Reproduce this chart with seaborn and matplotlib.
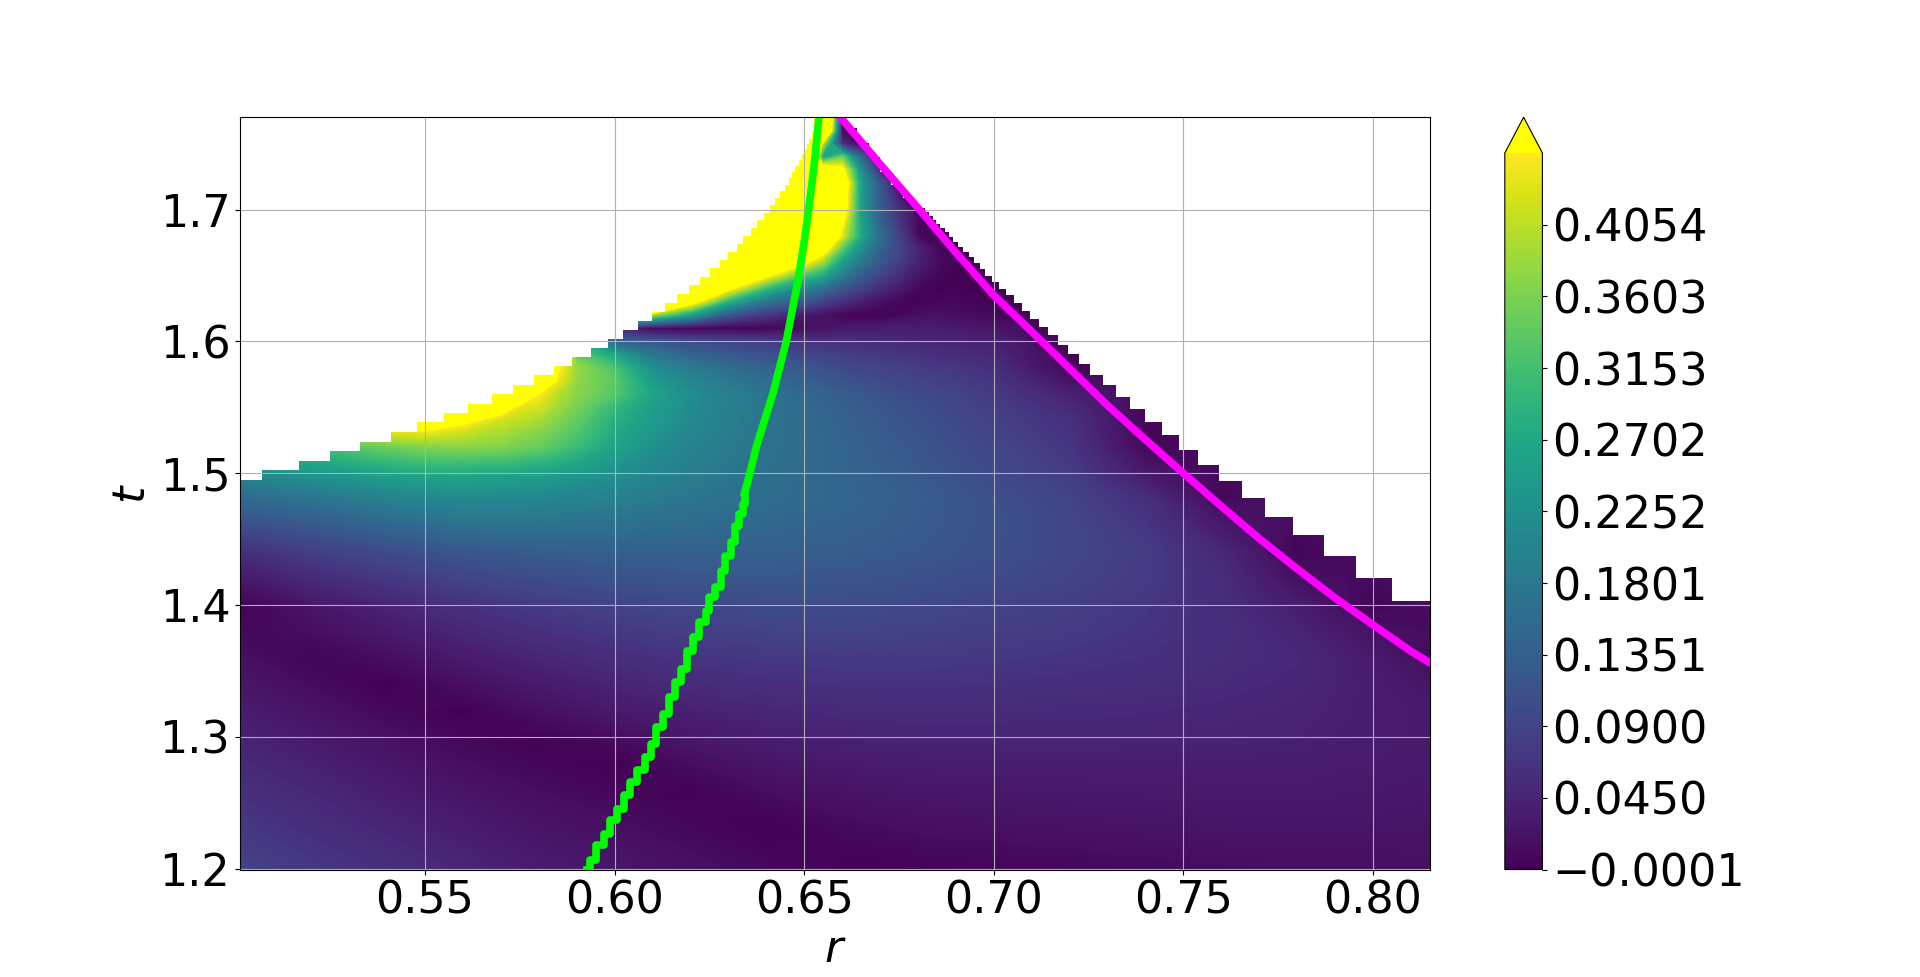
import numpy as np
import matplotlib
matplotlib.use('Agg')
import matplotlib.pyplot as plt
import seaborn as sns
from matplotlib.cm import ScalarMappable
from matplotlib.colors import Normalize
from matplotlib.path import Path

# lower part of the field, t 1.20 - 1.50
r_low = [0.50, 0.52, 0.54, 0.56, 0.58, 0.60, 0.62, 0.64, 0.66, 0.68, 0.70, 0.72, 0.74, 0.76, 0.78, 0.80, 0.82]
t_low = [1.20, 1.22, 1.24, 1.26, 1.28, 1.30, 1.32, 1.34, 1.36, 1.38, 1.40, 1.42, 1.44, 1.46, 1.48, 1.50]
field_low = [
    [.088, .073, .06, .047, .034, .027, .018, .01, .004, .003, .006, .008, .011, .013, .015, .016, .018],
    [.079, .065, .052, .039, .027, .02, .012, .004, .006, .012, .014, .016, .018, .02, .021, .021, .021],
    [.07, .056, .043, .031, .02, .014, .006, .004, .014, .019, .021, .023, .025, .026, .026, .026, .024],
    [.061, .048, .035, .023, .014, .007, .003, .015, .022, .027, .029, .03, .031, .032, .032, .03, .027],
    [.052, .04, .027, .015, .007, .002, .014, .025, .032, .035, .036, .037, .037, .037, .036, .033, .03],
    [.043, .031, .018, .008, .002, .014, .028, .037, .042, .045, .045, .045, .044, .043, .041, .036, .03],
    [.034, .022, .009, .002, .017, .03, .04, .047, .052, .054, .053, .052, .05, .047, .043, .037, .028],
    [.026, .013, .001, .016, .031, .044, .054, .06, .064, .065, .063, .06, .057, .053, .047, .036, .02],
    [.017, .005, .015, .032, .046, .058, .067, .073, .076, .075, .072, .068, .063, .057, .05, .032, .006],
    [.009, .015, .03, .048, .062, .074, .082, .088, .09, .087, .082, .076, .068, .06, .045, .02, .012],
    [.001, .025, .045, .063, .077, .09, .097, .102, .103, .098, .09, .082, .072, .058, .034, .004, .02],
    [.025, .052, .072, .09, .103, .113, .118, .12, .118, .111, .102, .09, .076, .056, .018, .012, .025],
    [.055, .08, .1, .118, .128, .135, .137, .136, .131, .122, .11, .095, .078, .05, .005, .02, .03],
    [.1, .122, .145, .165, .168, .165, .157, .148, .14, .127, .112, .094, .072, .03, .012, .025, .03],
    [.15, .17, .195, .21, .205, .195, .175, .16, .148, .13, .11, .09, .06, .01, .02, .03, .03],
    [.205, .235, .26, .27, .255, .225, .19, .165, .145, .125, .1, .08, .03, .01, .02, .03, .03],
]

# upper part, t 1.50 - 1.78
r_up = [0.50, 0.52, 0.54, 0.55, 0.56, 0.57, 0.575, 0.58, 0.585, 0.59, 0.60, 0.61, 0.62, 0.63, 0.64, 0.65,
        0.655, 0.66, 0.665, 0.67, 0.675, 0.68, 0.685, 0.69, 0.70, 0.72, 0.74, 0.76, 0.78, 0.80, 0.82]
t_up = [1.50, 1.52, 1.53, 1.54, 1.55, 1.56, 1.57, 1.58, 1.59, 1.60, 1.61, 1.62, 1.63, 1.64, 1.65, 1.66,
        1.67, 1.68, 1.70, 1.72, 1.73, 1.74, 1.75, 1.76, 1.78]
far = [.002, .01, .012, .02, .03, .03]
dark = [.002, .002, .002, .002, .002]
field_up = [
    [.205, .235, .26, .27, .27, .265, .26, .255, .248, .24, .225, .205, .19, .175, .165, .155, .15, .145, .14, .135, .13, .125, .118, .112, .1, .08, .03, .01, .02, .03, .03],
    [.29, .31, .35, .365, .37, .365, .355, .345, .325, .305, .26, .225, .2, .183, .17, .157, .15, .145, .137, .13, .124, .118, .112, .105, .095, .07, .008, .012, .02, .03, .03],
    [.34, .38, .42, .43, .41, .39, .375, .365, .345, .325, .27, .235, .206, .187, .171, .156, .149, .142, .135, .128, .12, .115, .108, .102, .091, .066, .006, .012, .02, .03, .03],
    [.4, .46, .5, .52, .47, .415, .405, .39, .365, .34, .28, .245, .212, .19, .172, .155, .148, .14, .132, .125, .118, .112, .105, .098, .087, .062, .006, .012, .02, .03, .03],
    [.5, .55, .6, .6, .58, .5, .43, .42, .385, .355, .3, .25, .218, .193, .172, .153, .144, .135, .127, .12, .113, .106, .1, .094, .081, .052, .008, .012, .02, .03, .03],
    [.6] * 6 + [.55, .45, .40, .37, .33, .26, .22, .195, .172, .15, .14, .13, .122, .115, .107, .1, .095, .09, .075, .04, .01, .012, .02, .03, .03],
    [.7] * 7 + [.6, .44, .375, .335, .245, .205, .18, .158, .135, .125, .115, .108, .102, .095, .09, .085, .08, .068, .022, .01, .012, .02, .03, .03],
    [.7] * 8 + [.46, .38, .32, .22, .185, .16, .14, .12, .11, .1, .095, .09, .085, .08, .075, .07, .06, .005, .01, .012, .02, .03, .03],
    [.7] * 8 + [.6, .34, .26, .175, .14, .125, .11, .093, .088, .08, .076, .072, .068, .065, .06, .056, .05] + far,
    [.7] * 8 + [.6, .28, .14, .12, .1, .09, .08, .065, .062, .06, .057, .055, .052, .05, .047, .045, .04] + far,
    [.7] * 9 + [.5, .05, .005, .002, .002, .002, .015, .022, .028, .032, .034, .035, .035, .034, .03, .025] + far,
    [.8] * 10 + [.5, .38, .25, .12, .07, .03, .018, .006, .003, .003, .008, .015, .02, .015, .008] + far,
    [.9] * 12 + [.5, .28, .17, .12, .085, .06, .035, .02, .008, .002, .008, .01, .002] + far,
    [.9] * 12 + [.8, .47, .3, .2, .16, .12, .085, .055, .03, .01, .002, .004, .002] + far,
    [.9] * 13 + [.7, .47, .32, .27, .19, .13, .09, .055, .025, .008, .001, .002] + far,
    [.9] * 14 + [.65, .47, .38, .25, .18, .125, .08, .04, .015, .002, .002] + far,
    [.9] * 15 + [.7, .5, .33, .22, .14, .09, .045, .012, .002, .002] + far,
    [.9] * 16 + [.7, .43, .27, .16, .085, .012, .002, .002, .002] + far,
    [.9] * 16 + [.8, .52, .25, .13, .06, .008, .002, .002, .002] + far,
    [.9] * 16 + [.8, .55, .25, .12, .008, .002, .002, .002, .002] + far,
    [.9] * 16 + [.55, .48, .22, .05] + dark + far,
    [.9] * 16 + [.25, .35, .14, .002] + dark + far,
    [.9] * 16 + [.4, .06, .002, .002] + dark + far,
    [.9] * 16 + [.8, .01, .002, .002] + dark + far,
    [.9] * 16 + [.9, .05, .002, .002] + dark + far,
]

# upper edge of the computed region, left and right staircase
left_r = [.5071, .5167, .5249, .5328, .5409, .5480, .5549, .5613, .5676, .5731, .5788, .5840, .5889, .5937, .5982,
          .6021, .6061, .6098, .6132, .6166, .6196, .6225, .6251, .6277, .6298, .6322, .6340, .6359, .6376, .6395,
          .6409, .6422, .6436, .6449, .6459, .6469, .6477, .6486, .6494, .6501, .6507, .6514, .6520, .6525, .6533]
left_t = [1.495, 1.5025, 1.5093, 1.5169, 1.5237, 1.5313, 1.5389, 1.5457, 1.5525, 1.5601, 1.5669, 1.5745, 1.5813,
          1.5881, 1.5949, 1.6018, 1.6086, 1.6154, 1.6222, 1.629, 1.6359, 1.6427, 1.6487, 1.6556, 1.6616, 1.6677,
          1.6737, 1.6798, 1.6859, 1.6919, 1.6972, 1.7033, 1.7086, 1.7139, 1.7184, 1.7237, 1.7283, 1.7328, 1.7374,
          1.7419, 1.7457, 1.7495, 1.7533, 1.7593, 1.78]
right_r = [.6610, .6640, .6670, .6700, .6730, .6760, .6790, .6820, .6830, .6839, .6849, .6859, .6871, .6883, .6894, .6906,
           .6919, .6935, .6949, .6963, .6978, .6996, .7014, .7033, .7053, .7074, .7095, .7119, .7143, .7169, .7195,
           .7225, .7254, .7288, .7322, .7359, .7399, .7444, .7489, .7539, .7595, .7655, .7716, .7790, .7871, .7955,
           .8052, .8200]
right_t = [1.78, 1.762, 1.7505, 1.7395, 1.7285, 1.7185, 1.7085, 1.7010, 1.6980, 1.6949, 1.6919, 1.6889, 1.6859, 1.6828,
           1.6790, 1.6753, 1.6715, 1.6677, 1.6639, 1.6593, 1.6548, 1.6495, 1.6449, 1.6396, 1.6351, 1.6290, 1.6230,
           1.6169, 1.6109, 1.6048, 1.5972, 1.5904, 1.5828, 1.5745, 1.5669, 1.5578, 1.5487, 1.5389, 1.5290, 1.5177,
           1.5063, 1.4942, 1.4809, 1.4669, 1.453, 1.4372, 1.4205, 1.4028]

# green curve, the lower part is stepped
green_low_r = [.5928, .5936, .5951, .5972, .5988, .6006, .6024, .6040, .6058, .6079, .6095, .6110, .6128, .6143, .6159,
               .6175, .6192, .6206, .6223, .6242, .6249, .6266, .6280, .6292, .6307, .6318, .6328, .6339, .6343]
green_low_t = [1.1993, 1.2063, 1.2177, 1.2265, 1.2366, 1.2455, 1.2556, 1.2657, 1.2745, 1.2846, 1.2947, 1.3073, 1.3174,
               1.3301, 1.3414, 1.3515, 1.3654, 1.3755, 1.3869, 1.3957, 1.4058, 1.4134, 1.4260, 1.4374, 1.4475, 1.4601,
               1.4689, 1.4765, 1.4848]
green_up_r = [.6343, .6357, .6374, .6396, .6418, .6453, .6484, .6500, .6512, .6526, .6540]
green_up_t = [1.4848, 1.50, 1.52, 1.5404, 1.5606, 1.60, 1.6465, 1.675, 1.70, 1.7323, 1.772]

magenta_r = [.6590, .67, .68, .69, .70, .71, .72, .73, .74, .75, .76, .77, .78, .79, .80, .81, .8160]
magenta_t = [1.772, 1.7345, 1.7013, 1.6675, 1.635, 1.6075, 1.5795, 1.5515, 1.5255, 1.50, 1.475, 1.4505, 1.4275, 1.4055,
             1.385, 1.365, 1.3545]

cbar_ticks = [-0.0001, 0.04495, 0.09, 0.13505, 0.1801, 0.22515, 0.2702, 0.31525, 0.3603, 0.40535]
cbar_labels = ['\u22120.0001', '0.0450', '0.0900', '0.1351', '0.1801', '0.2252', '0.2702', '0.3153', '0.3603', '0.4054']
vmin, vmax = -0.0001, 0.4505

plt.rcParams['font.size'] = 32
plt.rcParams['mathtext.fontset'] = 'dejavusans'

fig, ax = plt.subplots(figsize=(19.2, 9.77))

cmap = sns.color_palette('viridis', as_cmap=True).with_extremes(over='yellow')
norm = Normalize(vmin, vmax)
levels = np.linspace(vmin, vmax, 256)

cs_low = ax.contourf(r_low, t_low, np.array(field_low), levels=levels, cmap=cmap, norm=norm, extend='max', antialiased=False)
cs_up = ax.contourf(r_up, t_up, np.array(field_up), levels=levels, cmap=cmap, norm=norm, extend='max', antialiased=False)

# staircase outline
verts = [(0.50, 1.19), (0.50, left_t[0])]
for i in range(len(left_r)):
    verts.append((left_r[i], left_t[i]))
    if i + 1 < len(left_r):
        verts.append((left_r[i], left_t[i + 1]))
verts.append((right_r[0], right_t[0]))
for i in range(1, len(right_r)):
    verts.append((right_r[i - 1], right_t[i]))
    verts.append((right_r[i], right_t[i]))
verts.append((right_r[-1], 1.19))
verts.append((0.50, 1.19))
cs_low.set_clip_path(Path(verts), transform=ax.transData)
cs_up.set_clip_path(Path(verts), transform=ax.transData)

sns.lineplot(x=green_low_r, y=green_low_t, ax=ax, color='lime', linewidth=5.5, estimator=None, sort=False,
             drawstyle='steps-post')
sns.lineplot(x=green_up_r, y=green_up_t, ax=ax, color='lime', linewidth=5.5, estimator=None, sort=False)
sns.lineplot(x=magenta_r, y=magenta_t, ax=ax, color='magenta', linewidth=5.5, estimator=None, sort=False)

ax.set_xlim(0.5012, 0.8152)
ax.set_ylim(1.1993, 1.77)
ax.set_xticks([0.55, 0.60, 0.65, 0.70, 0.75, 0.80])
ax.set_yticks([1.2, 1.3, 1.4, 1.5, 1.6, 1.7])
ax.grid(True)
ax.set_xlabel('$r$')
ax.set_ylabel('$t$')

cb = fig.colorbar(ScalarMappable(norm=norm, cmap=cmap), ax=ax, extend='max')
cb.set_ticks(cbar_ticks, labels=cbar_labels)

fig.savefig('out.png', dpi=100)
